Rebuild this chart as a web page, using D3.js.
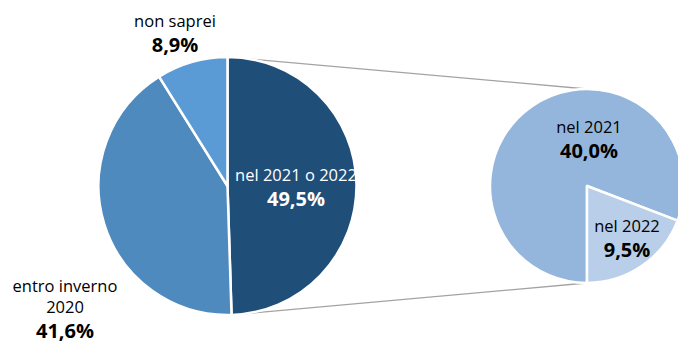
<!DOCTYPE html>
<html>
<head>
<meta charset="utf-8">
<script src="https://cdn.jsdelivr.net/npm/d3@7"></script>
<style>
  html, body { margin: 0; padding: 0; background: #fff; }
  svg { display: block; font-family: "Open Sans", "Noto Sans", sans-serif; }
</style>
</head>
<body>
<svg id="chart" width="678" height="343"></svg>
<script>
// Main pie: when the answer is expected
const mainLabels = ["nel 2021 o 2022", "entro inverno 2020", "non saprei"];
const mainValues = [49.5, 41.6, 8.9];
const mainColors = ["#1f4e79", "#4f8abe", "#5b9bd5"];

// Secondary pie: breakdown of the first slice
const subLabels = ["nel 2021", "nel 2022"];
const subValues = [40.0, 9.5];
const subColors = ["#95b6dc", "#b9cee9"];

const fmt = v => d3.format(".1f")(v).replace(".", ",") + "%";

const svg = d3.select("#chart");

const main = { cx: 227.5, cy: 186, r: 129 };
const sub = { cx: 587, cy: 186, r: 97 };

const mainPie = d3.pie().sort(null).startAngle(0).endAngle(2 * Math.PI);
const subPie = d3.pie().sort(null).startAngle(Math.PI).endAngle(3 * Math.PI);

const mainArcs = mainPie(mainValues);
const subArcs = subPie(subValues);

const mainArc = d3.arc().innerRadius(0).outerRadius(main.r);
const subArc = d3.arc().innerRadius(0).outerRadius(sub.r);

// point on a circle at a d3 pie angle (0 = 12 o'clock, clockwise)
const onCircle = (c, a) => [c.cx + c.r * Math.sin(a), c.cy - c.r * Math.cos(a)];

// connector lines from the expanded slice to the secondary pie
const first = mainArcs[0];
const connectors = [
  [onCircle(main, first.startAngle), onCircle(sub, 0)],
  [onCircle(main, first.endAngle), onCircle(sub, Math.PI)]
];
svg.append("g")
  .selectAll("line")
  .data(connectors)
  .join("line")
  .attr("x1", d => d[0][0]).attr("y1", d => d[0][1])
  .attr("x2", d => d[1][0]).attr("y2", d => d[1][1])
  .attr("stroke", "#a3a3a3")
  .attr("stroke-width", 1.3);

svg.append("g")
  .attr("transform", `translate(${main.cx},${main.cy})`)
  .selectAll("path")
  .data(mainArcs)
  .join("path")
  .attr("d", mainArc)
  .attr("fill", (d, i) => mainColors[i])
  .attr("stroke", "#fff")
  .attr("stroke-width", 2.5)
  .attr("stroke-linejoin", "round");

svg.append("g")
  .attr("transform", `translate(${sub.cx},${sub.cy})`)
  .selectAll("path")
  .data(subArcs)
  .join("path")
  .attr("d", subArc)
  .attr("fill", (d, i) => subColors[i])
  .attr("stroke", "#fff")
  .attr("stroke-width", 2.5)
  .attr("stroke-linejoin", "round");

// data labels: category lines above a bold percentage
const labels = [
  { lines: ["nel 2021 o 2022"], value: mainValues[0], x: 296, y: 181, color: "#fff" },
  { lines: ["entro inverno", "2020"], value: mainValues[1], x: 65, y: 292, color: "#000" },
  { lines: ["non saprei"], value: mainValues[2], x: 175, y: 27, color: "#000" },
  { lines: [subLabels[0]], value: subValues[0], x: 589, y: 133, color: "#000" },
  { lines: [subLabels[1]], value: subValues[1], x: 627, y: 232, color: "#000" }
];

const lg = svg.append("g").attr("text-anchor", "middle");
labels.forEach(l => {
  const t = lg.append("g").attr("fill", l.color);
  l.lines.forEach((s, k) => {
    t.append("text")
      .attr("x", l.x)
      .attr("y", l.y + k * 21)
      .attr("font-size", 16.5)
      .text(s);
  });
  t.append("text")
    .attr("x", l.x)
    .attr("y", l.y + (l.lines.length - 1) * 21 + 25)
    .attr("font-size", 20)
    .attr("font-weight", "bold")
    .text(fmt(l.value));
});
</script>
</body>
</html>
